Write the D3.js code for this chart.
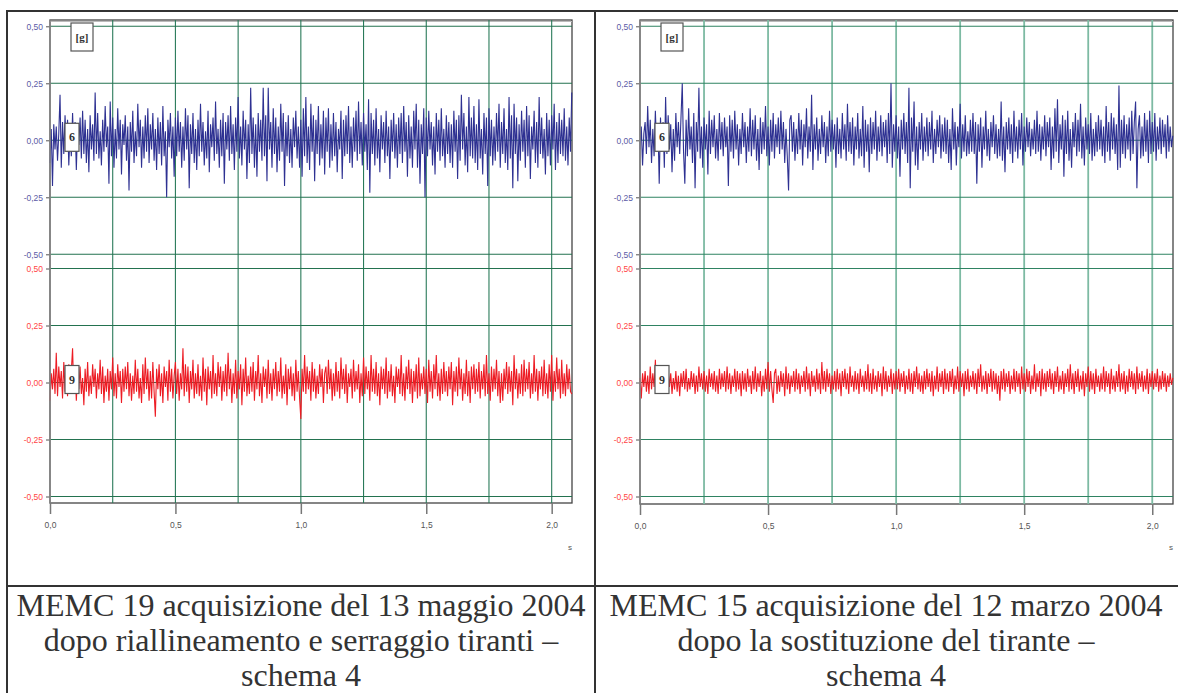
<!DOCTYPE html>
<html>
<head>
<meta charset="utf-8">
<script src="https://cdn.jsdelivr.net/npm/d3@7"></script>
<style>
body { margin: 0; background: #fff; }
svg { display: block; }
.cap { font-family: "Liberation Serif", "Times New Roman", Tinos, serif; }
.tag { font-family: "Liberation Serif", "Times New Roman", Tinos, serif; font-weight: bold; }
.tick text, .unit { font-family: "Liberation Sans", Arial, sans-serif; }
</style>
</head>
<body>
<svg id="chart" width="1178" height="693"></svg>
<script>
// sample step of the acquisitions (s)
var dt = 0.005;
var xMax = 2.081;
var yTicks = [0.5, 0.25, 0, -0.25, -0.5];
var xTicks = [0, 0.5, 1.0, 1.5, 2.0];
var xGrid = [0.25, 0.5, 0.75, 1.0, 1.25, 1.5, 1.75, 2.0];
var channels = ['6', '9'];

// MEMC 19 - channel 6 [g], one row = 0.1 s
var memc19ch6 = [
 -.10,.05,-.20,.07,-.04,.06,-.09,.03,.20,-.12,.08,-.06,.11,-.03,.09,-.11,.04,-.07,.12,-.05,
 .08,-.13,.06,-.02,.10,-.08,.13,-.06,.09,-.10,.05,-.14,.11,-.04,.07,-.09,.21,-.06,.12,-.08,
 .04,-.11,.09,-.05,.15,-.03,.06,-.19,.17,-.07,.10,-.12,.05,-.08,.14,-.04,.09,-.15,.07,-.02,
 .11,-.09,.06,-.22,.08,-.05,.13,-.10,.04,-.07,.16,-.03,.09,-.12,.06,-.08,.11,-.05,.14,-.10,
 .07,-.04,.12,-.09,.05,-.13,.10,-.06,.08,-.11,.15,-.07,.04,-.25,.09,-.03,.12,-.08,.06,-.16,
 .10,-.07,.13,-.05,.08,-.12,.06,-.09,.14,-.04,.11,-.21,.07,-.06,.12,-.10,.05,-.13,.09,-.07,
 .16,-.05,.08,-.11,.04,-.08,.13,-.14,.07,-.03,.10,-.09,.17,-.06,.05,-.12,.09,-.07,.12,-.19,
 .08,-.04,.11,-.09,.15,-.06,.07,-.13,.10,-.05,.19,-.08,.06,-.11,.13,-.04,.09,-.17,.07,-.10,
 .23,-.06,.10,-.12,.07,-.16,.12,-.05,.09,-.09,.23,-.07,.11,-.18,.23,-.04,.08,-.12,.14,-.06,
 .10,-.14,.06,-.09,.16,-.05,.12,-.20,.08,-.07,.11,-.10,.05,-.12,.10,-.03,.13,-.08,.06,-.12,
 .09,-.16,.14,-.07,.19,-.10,.06,-.13,.16,-.05,.11,-.18,.09,-.06,.15,-.11,.07,-.08,.13,-.15,
 .10,-.05,.14,-.12,.07,-.09,.12,-.07,.08,-.14,.05,-.04,.13,-.17,.09,-.07,.11,-.06,.15,-.10,
 .06,-.12,.10,-.05,.13,-.09,.17,-.06,.08,-.11,.12,-.05,.07,-.13,.18,-.23,.12,-.06,.09,-.11,
 .14,-.08,.05,-.14,.11,-.04,.08,-.10,.13,-.07,.06,-.17,.09,-.05,.12,-.08,.07,-.12,.10,-.06,
 .12,-.10,.15,-.05,.08,-.16,.11,-.08,.06,-.12,.13,-.04,.16,-.12,.09,-.19,.07,-.06,.14,-.25,
 .10,-.07,.13,-.04,.08,-.11,.06,-.15,.12,-.05,.09,-.09,.14,-.07,.05,-.12,.11,-.06,.08,-.10,
 .07,-.12,.13,-.05,.09,-.17,.11,-.09,.20,-.04,.12,-.11,.06,-.14,.19,-.07,.10,-.08,.15,-.10,
 .07,-.13,.18,-.08,.05,-.15,.12,-.06,.10,-.20,.14,-.07,.09,-.11,.06,-.09,.12,-.05,.16,-.12,
 .08,-.06,.14,-.10,.05,-.13,.19,-.08,.11,-.21,.16,-.06,.10,-.18,.07,-.09,.13,-.05,.09,-.12,
 .15,-.07,.11,-.17,.06,-.04,.13,-.10,.08,-.12,.19,-.06,.10,-.08,.05,-.15,.12,-.07,.09,-.11,
 .11,-.04,.16,-.13,.08,-.10,.12,-.06,.09,-.07,.14,-.09,.06,-.11,.10,-.05,.21
];
// MEMC 19 - channel 9 [g]
var memc19ch9 = [
 -.08,.04,-.03,.06,-.05,.13,-.06,.07,-.02,.05,-.07,.09,-.04,.03,-.06,.08,-.03,.05,.15,-.05,
 .06,-.08,.04,-.03,.07,-.05,.02,-.10,.06,-.04,.09,-.06,.03,-.05,.08,-.02,.06,-.07,.04,-.03,
 .10,-.05,.07,-.09,.03,-.04,.06,-.08,.05,-.03,.11,-.06,.04,-.07,.08,-.02,.05,-.09,.06,-.04,
 .07,-.03,.09,-.06,.04,-.08,.03,-.05,.10,-.04,.06,-.07,.02,-.09,.08,-.05,.11,-.03,.06,-.08,
 .05,-.07,.09,-.04,-.15,.06,-.03,.08,-.06,.04,-.09,.07,-.02,.05,-.08,.10,-.04,.06,-.07,.03,
 .09,-.05,.06,-.08,.04,-.03,.15,-.06,.08,-.04,.07,-.09,.05,-.03,.10,-.07,.04,-.05,.08,-.06,
 .03,-.08,.11,-.04,.06,-.10,.07,-.03,.05,-.07,.12,-.05,.04,-.06,.09,-.02,.07,-.08,.05,-.04,
 .08,-.06,.13,-.03,.06,-.09,.04,-.05,.10,-.07,.05,-.03,.08,-.10,.06,-.04,.11,-.06,.03,-.05,
 .07,-.04,.09,-.08,.05,-.03,.12,-.06,.04,-.09,.07,-.02,.06,-.07,.10,-.05,.04,-.08,.06,-.03,
 .09,-.06,.05,-.04,.11,-.07,.03,-.05,.08,-.10,.06,-.03,.07,-.06,.04,-.08,.10,-.04,.05,-.07,
 -.16,.06,-.04,.12,-.05,.07,-.03,.05,-.08,.09,-.04,.06,-.07,.03,-.05,.08,-.02,.06,-.09,.04,
 .07,-.05,.10,-.03,.06,-.08,.04,-.06,.09,-.04,.05,-.07,.11,-.03,.06,-.05,.08,-.09,.04,-.02,
 .06,-.07,.10,-.04,.05,-.03,.08,-.09,.04,-.06,.11,-.05,.07,-.03,.05,-.08,.12,-.04,.06,-.05,
 .09,-.06,.04,-.10,.07,-.03,.06,-.05,.11,-.07,.05,-.04,.08,-.06,.03,-.09,.07,-.02,.06,-.05,
 .12,-.06,.04,-.08,.07,-.03,.10,-.05,.06,-.09,.05,-.04,.08,-.07,.11,-.06,.04,-.03,.07,-.05,
 .06,-.09,.10,-.04,.05,-.07,.08,-.03,.12,-.06,.04,-.08,.06,-.05,.09,-.04,.05,-.06,.07,-.03,
 .09,-.10,.05,-.04,.07,-.06,.11,-.03,.06,-.08,.04,-.05,.10,-.06,.05,-.09,.07,-.03,.08,-.05,
 .06,-.04,.09,-.07,.05,-.03,.08,-.06,.12,-.05,.04,-.08,.07,-.04,.06,-.03,.10,-.06,.05,-.09,
 .04,-.08,.06,-.03,.09,-.05,.07,-.04,.05,-.10,.12,-.03,.06,-.07,.04,-.05,.08,-.06,.10,-.04,
 .06,-.03,.09,-.07,.04,-.05,.12,-.04,.06,-.08,.05,-.03,.07,-.06,.10,-.05,.04,-.07,.08,-.04,
 .12,-.08,.05,-.04,.11,-.03,.06,-.07,.10,-.05,.04,-.06,.08,-.03,.06,-.04,-.05
];
// MEMC 15 - channel 6 [g]
var memc15ch6 = [
 -.04,.06,-.11,.03,.08,-.06,.15,-.03,.09,-.10,.05,-.07,.13,-.04,.07,-.19,.10,-.05,.08,-.12,
 .19,-.06,.11,-.04,.07,-.14,.05,-.09,.12,-.03,.08,-.06,.10,.25,-.05,-.19,.09,-.07,.14,-.04,
 .06,-.10,.12,-.21,.08,-.05,.23,-.08,.06,-.12,.10,-.04,.07,-.15,.13,-.06,.09,-.03,.11,-.08,
 .05,-.09,.12,-.04,.08,-.07,.10,-.03,.06,-.20,.11,-.05,.09,-.08,.13,-.04,.07,-.11,.05,-.06,
 .12,-.03,.08,-.10,.06,-.05,.14,-.07,.09,-.04,.11,-.09,.05,-.13,.10,-.06,.08,-.04,.15,-.07,
 .06,-.11,.09,-.05,.12,-.08,.07,-.03,.10,-.06,.13,-.04,.08,-.10,.05,-.07,-.22,.09,.11,-.05,
 .08,-.09,.05,-.06,.12,-.04,.09,-.11,.07,-.03,.14,-.08,.06,-.05,.20,-.13,.07,-.04,.10,-.09,
 .05,-.06,.11,-.03,.08,-.10,.06,-.07,.13,-.05,.09,-.04,.07,-.12,.10,-.06,.05,-.08,.12,-.04,
 .07,-.09,.16,-.05,.08,-.06,.10,-.11,.06,-.04,.12,-.08,.05,-.07,.15,-.12,.09,-.05,.07,-.14,
 .10,-.06,.08,-.04,.13,-.09,.06,-.05,.11,-.07,.08,-.03,.09,-.10,.12,-.06,.25,-.12,.07,-.05,
 .11,-.08,.06,-.16,.09,-.04,.12,-.06,.08,-.10,.23,-.21,.10,-.05,.17,-.11,.06,-.13,.08,-.04,
 .12,-.09,.06,-.05,.10,-.07,.08,-.04,.13,-.10,.05,-.06,.09,-.03,.11,-.08,.07,-.05,.10,-.06,
 .09,-.10,.05,-.13,.14,-.04,.08,-.11,.06,-.03,.16,-.08,.07,-.05,.11,-.07,.04,-.06,.09,-.05,
 .12,-.06,.08,-.19,.07,-.05,.10,-.12,.06,-.04,.13,-.07,.05,-.09,.08,-.03,.11,-.06,.07,-.08,
 .05,-.07,.17,-.09,.06,-.14,.08,-.04,.10,-.06,.07,-.10,.13,-.05,.06,-.08,.09,-.04,.12,-.11,
 .06,-.05,.10,-.03,.08,-.07,.05,-.04,.09,-.06,.13,-.05,.07,-.09,.06,-.04,.11,-.07,.08,-.03,
 .10,-.13,.06,-.08,.14,-.05,.18,-.10,.07,-.04,.11,-.16,.09,-.06,.13,-.09,.05,-.12,.08,-.03,
 .12,-.07,.09,-.05,.16,-.08,.06,-.11,.10,-.04,.07,-.06,.12,-.09,.05,-.07,.08,-.05,.11,-.04,
 .09,-.07,.06,-.10,.15,-.05,.08,-.09,.12,-.04,.10,-.06,.07,-.13,.24,-.12,.09,-.06,.11,-.08,
 .07,-.04,.10,-.09,.13,-.06,.08,.17,-.21,.05,.11,-.08,.06,-.07,.12,-.05,.09,-.10,.13,-.06,
 .08,-.05,.12,-.09,.06,-.04,.10,-.06,.09,-.03,.07,-.08,.11,-.05,.06,-.03,.02
];
// MEMC 15 - channel 9 [g]
var memc15ch9 = [
 .02,-.07,.04,-.02,.05,-.04,.03,-.05,.07,-.03,.04,-.02,.10,-.05,.03,-.04,.06,-.02,.04,-.05,
 .03,-.04,.06,-.02,.04,-.05,.02,-.03,.05,-.04,.03,-.06,.04,-.02,.05,-.03,.06,-.04,.02,-.03,
 .05,-.02,.04,-.05,.03,-.04,.07,-.02,.04,-.03,.05,-.04,.03,-.05,.06,-.02,.04,-.03,.05,-.04,
 .03,-.05,.06,-.03,.04,-.02,.05,-.04,.07,-.03,.04,-.05,.03,-.02,.06,-.04,.05,-.03,.04,-.06,
 .05,-.03,.04,-.04,.06,-.02,.03,-.05,.05,-.03,.07,-.04,.04,-.02,.05,-.06,.03,-.04,.06,-.03,
 .09,-.04,.05,-.03,-.09,.04,.06,-.05,.03,-.04,.05,-.02,.04,-.06,.07,-.03,.04,-.05,.03,-.02,
 .05,-.04,.06,-.03,.04,-.05,.03,-.02,.05,-.04,.07,-.03,.04,-.06,.05,-.02,.03,-.04,.06,-.03,
 .04,-.05,.09,-.03,.05,-.04,.06,-.02,.04,-.05,.03,-.03,.05,-.04,.06,-.03,.04,-.06,.05,-.02,
 .06,-.03,.04,-.05,.07,-.02,.03,-.04,.05,-.03,.04,-.05,.06,-.02,.03,-.04,.05,-.03,.08,-.04,
 .04,-.05,.06,-.03,.03,-.04,.05,-.02,.04,-.06,.07,-.03,.05,-.04,.03,-.02,.06,-.05,.04,-.03,
 .05,-.03,.06,-.04,.04,-.02,.05,-.05,.03,-.03,.06,-.04,.04,-.05,.05,-.02,.07,-.03,.04,-.04,
 .03,-.05,.05,-.03,.06,-.02,.04,-.04,.05,-.06,.03,-.03,.07,-.04,.04,-.02,.05,-.05,.06,-.03,
 .04,-.04,.05,-.02,.06,-.05,.03,-.03,.07,-.04,.05,-.02,.04,-.06,.05,-.03,.06,-.04,.03,-.02,
 .05,-.03,.04,-.05,.06,-.02,.08,-.04,.03,-.03,.05,-.05,.04,-.02,.06,-.04,.05,-.03,.04,-.05,
 .03,-.08,.05,-.03,.06,-.04,.04,-.02,.05,-.05,.03,-.03,.06,-.04,.05,-.02,.04,-.05,.07,-.03,
 .04,-.04,.06,-.02,.05,-.05,.03,-.03,.08,-.04,.04,-.02,.05,-.06,.06,-.03,.04,-.04,.05,-.02,
 .06,-.03,.04,-.05,.05,-.02,.07,-.04,.03,-.03,.05,-.05,.04,-.02,.06,-.04,.08,-.03,.04,-.05,
 .05,-.02,.06,-.04,.03,-.03,.05,-.06,.04,-.02,.07,-.04,.05,-.03,.04,-.05,.06,-.02,.03,-.04,
 .04,-.03,.07,-.04,.05,-.02,.04,-.05,.06,-.03,.03,-.04,.05,-.02,.08,-.04,.04,-.03,.05,-.05,
 .03,-.04,.06,-.02,.05,-.03,.04,-.05,.07,-.03,.04,-.02,.05,-.04,.03,-.03,.06,-.05,.04,-.02,
 .05,-.03,.04,-.02,.06,-.04,.03,-.03,.05,-.02,.04,-.04,.03,-.02,.04,-.01,.02
];

var captionLeft = ['MEMC 19 acquisizione del 13 maggio 2004', 'dopo riallineamento e serraggio tiranti \u2013', 'schema 4'];
var captionRight = ['MEMC 15 acquisizione del 12 marzo 2004', 'dopo la sostituzione del tirante \u2013', 'schema 4'];

var svg = d3.select('#chart');
svg.append('rect').attr('width', 1178).attr('height', 693).attr('fill', '#fff');

var fmtY = function(d){ return d3.format('.2f')(d).replace('.', ',').replace('\u2212', '-') }
var fmtX = function(d){ return d3.format('.1f')(d).replace('.', ',') }

var seriesColors = ['#2e3192', '#ed1c24'];
var labelColors = ['#5b5ba6', '#ff4545'];

// panel geometry (pixels)
var panels = [
	{left: 50, right: 572, top: 20, bottom: 503, series: [memc19ch6, memc19ch9], caption: captionLeft, cx: 301,
	 vGrid: '#2a7a5a', vWidth: 1.1, hGrid: '#23724f'},
	{left: 640, right: 1173, top: 20, bottom: 504, series: [memc15ch6, memc15ch9], caption: captionRight, cx: 886,
	 vGrid: '#7dbaa3', vWidth: 1.8, hGrid: '#2f8362'}
];
var bands = [[26.3, 254.3], [268.5, 496.5]];

panels.forEach(function(p){
	var g = svg.append('g');
	var x = d3.scaleLinear().domain([0, xMax]).range([p.left, p.right]);

	// frame
	g.append('rect')
		.attr('x', p.left).attr('y', p.top)
		.attr('width', p.right - p.left).attr('height', p.bottom - p.top)
		.attr('fill', 'none').attr('stroke', '#444').attr('stroke-width', 1.3);
	g.append('line')
		.attr('x1', p.left).attr('x2', p.right).attr('y1', p.top + 1.5).attr('y2', p.top + 1.5)
		.attr('stroke', '#bbb').attr('stroke-width', 1);

	// vertical grid
	g.selectAll('.vgrid').data(xGrid).enter()
		.append('line')
		.attr('x1', function(d){return x(d)}).attr('x2', function(d){return x(d)})
		.attr('y1', p.top).attr('y2', p.bottom)
		.attr('stroke', p.vGrid).attr('stroke-width', p.vWidth);

	bands.forEach(function(b, k){
		var y = d3.scaleLinear().domain([0.5, -0.5]).range(b);

		g.selectAll('.hgrid' + k).data(yTicks).enter()
			.append('line')
			.attr('x1', p.left).attr('x2', p.right)
			.attr('y1', function(d){return y(d)}).attr('y2', function(d){return y(d)})
			.attr('stroke', p.hGrid).attr('stroke-width', 1.1);

		var ax = g.append('g')
			.attr('transform', 'translate(' + p.left + ',0)')
			.call(d3.axisLeft(y).tickValues(yTicks).tickSize(4).tickFormat(fmtY));
		ax.select('.domain').remove();
		ax.selectAll('line').attr('stroke', '#555');
		ax.selectAll('text')
			.attr('x', -7)
			.attr('fill', labelColors[k])
			.style('font-size', '8.5px');

		var line = d3.line()
			.x(function(d, i){return x(i * dt)})
			.y(function(d){return y(d)});
		g.append('path')
			.datum(p.series[k])
			.attr('d', line)
			.attr('fill', 'none')
			.attr('stroke', seriesColors[k])
			.attr('stroke-width', 1.1);

		// channel tag
		var tag = g.append('g').attr('transform', 'translate(' + (p.left + 15) + ',' + (y(0) - 17) + ')');
		tag.append('rect').attr('width', 14).attr('height', 28)
			.attr('fill', '#fff').attr('stroke', '#555').attr('stroke-width', 1.2);
		tag.append('text').attr('class', 'tag').attr('x', 7).attr('y', 18).attr('text-anchor', 'middle')
			.style('font-size', '12px').attr('fill', '#333')
			.text(channels[k]);
	});

	// unit tag
	var unit = g.append('g').attr('transform', 'translate(' + (p.left + 21) + ',' + (p.top + 3) + ')');
	unit.append('rect').attr('width', 22).attr('height', 28)
		.attr('fill', '#fff').attr('stroke', '#555').attr('stroke-width', 1.2);
	unit.append('text').attr('class', 'tag').attr('x', 11).attr('y', 18).attr('text-anchor', 'middle')
		.style('font-size', '11px').attr('fill', '#333')
		.text('[g]');

	// left axis line
	g.append('line').attr('x1', p.left).attr('x2', p.left).attr('y1', p.top).attr('y2', p.bottom)
		.attr('stroke', '#888').attr('stroke-width', 1.6);

	// time axis
	var xa = g.append('g')
		.attr('transform', 'translate(0,' + p.bottom + ')')
		.call(d3.axisBottom(x).tickValues(xTicks).tickSize(11).tickPadding(8).tickFormat(fmtX));
	xa.select('.domain').remove();
	xa.selectAll('line').attr('stroke', '#777').attr('stroke-width', 1.5);
	xa.selectAll('text').attr('fill', '#555').style('font-size', '8.5px');
	g.append('text').attr('class', 'unit').attr('x', p.right - 2).attr('y', 550).attr('text-anchor', 'middle')
		.attr('fill', '#555').style('font-size', '8px')
		.text('s');

	// caption
	g.selectAll('.cap').data(p.caption).enter()
		.append('text')
		.attr('class', 'cap')
		.attr('x', p.cx)
		.attr('y', function(d, i){return 616 + i * 35})
		.attr('text-anchor', 'middle')
		.attr('fill', '#333')
		.style('font-size', '32px')
		.text(function(d){return d});
});

// table borders
var border = '#333';
svg.append('line').attr('x1', 7).attr('x2', 1178).attr('y1', 11).attr('y2', 11).attr('stroke', border).attr('stroke-width', 2);
svg.append('line').attr('x1', 7).attr('x2', 1178).attr('y1', 586).attr('y2', 586).attr('stroke', border).attr('stroke-width', 2);
svg.append('line').attr('x1', 7).attr('x2', 7).attr('y1', 10).attr('y2', 693).attr('stroke', border).attr('stroke-width', 2);
svg.append('line').attr('x1', 595).attr('x2', 595).attr('y1', 10).attr('y2', 693).attr('stroke', border).attr('stroke-width', 2);
</script>
</body>
</html>
